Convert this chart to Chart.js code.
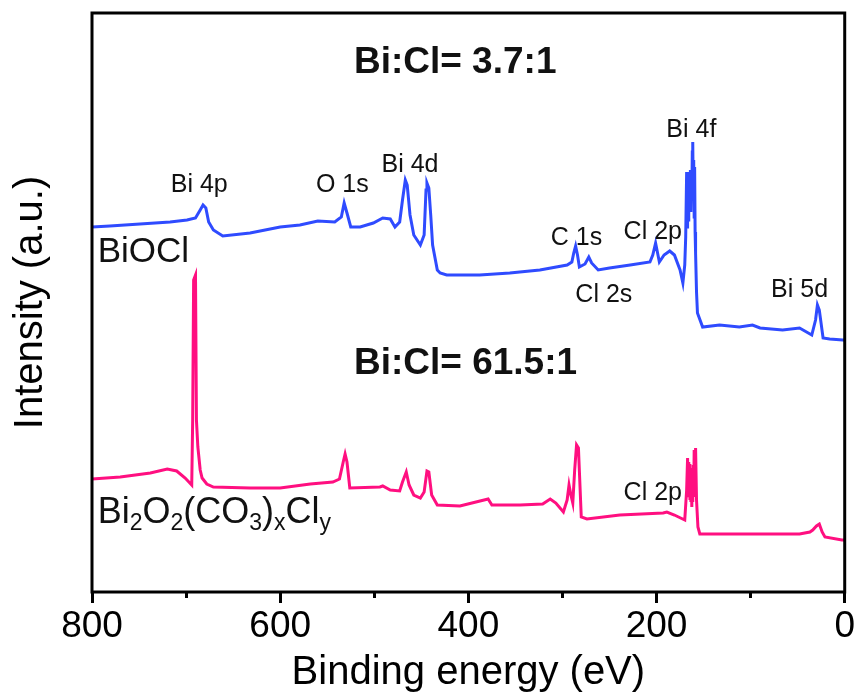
<!DOCTYPE html>
<html>
<head>
<meta charset="utf-8">
<script src="https://cdn.jsdelivr.net/npm/chart.js@4/dist/chart.umd.min.js"></script>
<style>
html,body{margin:0;padding:0;background:#fff;}
#wrap{width:857px;height:695px;}
</style>
</head>
<body>
<div id="wrap"><canvas id="canvas" width="857" height="695"></canvas></div>
<script>
// XPS survey, binding energy (eV) vs intensity (a.u.)
var energyBiOCl=[800,781,749,717,699,690,685,682,679,676,671,661,632,600,579,560,542,535,532,529,525,515,501,491,483,478,473,470,467,465,462,458,451,447,445,444,442,440,438,433,430,423,388,356,324,295,290,288,286,284,282,276,272,269,262,250,228,207,204,201,197,192,186,181,175,172,170,169,168,167.5,167,166.5,166,165.5,165,164.5,164,163.5,163,162.5,162,161.5,161,160.5,160,159.5,159,158.5,157.5,156.5,151,133,112,98,90,66,48,35,31,29,27,23,16,2,0];
var intensityBiOCl=[365,366,368,370,372,374,382,387,384,370,362,356,359,365,367,371,370,375,389,379,365,365,369,374,373,365,370,392,412,407,377,357,347,357,402,409,404,377,347,322,319,317,317,319,322,327,330,339,346,337,325,328,335,329,322,324,327,330,337,349,330,337,341,337,322,309,327,355,420,365,418,372,420,380,418,385,422,380,418,395,440,450,400,432,375,425,360,339,300,279,265,267,265,267,264,262,264,257,272,287,282,254,253,252,252];

var energyBOC=[800,770,738,720,710,701,694,693,692,690,689,687.5,685,683,678,671,632,600,568,544,537,533,531,529,526,494,491,483,473,470,466,463,458,451,447,444,442,439,433,409,379,375,345,321,313,307,299,295,293,291,289,287,285,283,280,274,239,193,189,181,170,168,167,166.5,166,165.5,165,164.5,164,163.5,163,162.5,162,161.5,161,160.5,160,159.5,159,158.5,157.5,156,154,101,48,37,34,30,27,24,21,3,0];
var intensityBOC=[113,115,119,123,121,114,107,172,312,317,172,145,122,114,108,105,104,104,108,110,113,130,138,130,104,105,106,102,101,110,120,107,97,94,100,121,120,97,87,86,93,87,87,88,93,89,80,92,107,97,89,122,147,144,75,73,77,79,80,77,72,102,134,100,130,95,128,92,124,90,110,85,118,90,127,95,142,100,140,144,92,65,58,58,58,60,62,66,68,60,55,52,52];

var seriesNames=['BiOCl','Bi2O2(CO3)xCly'];
var seriesColors=['#2f4bff','#ff0f80'];
var xTicks=[800,600,400,200,0];

// peak labels: text, energy (eV), intensity (a.u.)
var peakText=['Bi 4p','O 1s','Bi 4d','C 1s','Cl 2s','Cl 2p','Bi 4f','Bi 5d','Cl 2p'];
var peakEnergy=[686,534,462,285,256,204,163,48,204];
var peakIntensity=[407,407,427,354,297,360,462,302,99];

var ratioText=['Bi:Cl= 3.7:1','Bi:Cl= 61.5:1'];
var ratioEnergy=[414,403];
var ratioIntensity=[529,228];

function toPoints(xs,ys){
	var pts=[];
	for(var i=0;i<xs.length;i++){
		pts.push({x:xs[i],y:ys[i]});
	}
	return pts;
}

var FONT='"Liberation Sans", Arial, sans-serif';

var labelPlugin={
	id:'labels',
	afterDraw:function(chart){
		var ctx=chart.ctx;
		var xs=chart.scales.x, ys=chart.scales.y;
		var a=chart.chartArea;
		ctx.save();
		// frame
		ctx.strokeStyle='#000';
		ctx.lineWidth=3;
		ctx.strokeRect(a.left,a.top,a.right-a.left,a.bottom-a.top);
		ctx.fillStyle='#111';
		ctx.textAlign='center';
		ctx.textBaseline='middle';
		ctx.font='25px '+FONT;
		for(var i=0;i<peakText.length;i++){
			ctx.fillText(peakText[i],xs.getPixelForValue(peakEnergy[i]),ys.getPixelForValue(peakIntensity[i]));
		}
		ctx.font='bold 37px '+FONT;
		for(var i=0;i<ratioText.length;i++){
			ctx.fillText(ratioText[i],xs.getPixelForValue(ratioEnergy[i]),ys.getPixelForValue(ratioIntensity[i]));
		}
		// sample names
		ctx.textAlign='left';
		ctx.textBaseline='alphabetic';
		ctx.font='35px '+FONT;
		ctx.fillText('BiOCl',xs.getPixelForValue(794),ys.getPixelForValue(342)+12);
		// Bi2O2(CO3)xCly with subscripts
		var parts=[['Bi',0],['2',1],['O',0],['2',1],['(CO',0],['3',1],[')',0],['x',1],['Cl',0],['y',1]];
		var px=xs.getPixelForValue(794), py=ys.getPixelForValue(81)+12;
		for(var j=0;j<parts.length;j++){
			var sub=parts[j][1]==1;
			ctx.font=(sub?'23px ':'36px ')+FONT;
			ctx.fillText(parts[j][0],px,py+(sub?7:0));
			px+=ctx.measureText(parts[j][0]).width;
		}
		ctx.restore();
	}
};

var config={
	type:'line',
	data:{
		datasets:[
			{label:seriesNames[0],data:toPoints(energyBiOCl,intensityBiOCl),borderColor:seriesColors[0],borderWidth:3,pointRadius:0,tension:0,fill:false},
			{label:seriesNames[1],data:toPoints(energyBOC,intensityBOC),borderColor:seriesColors[1],borderWidth:3,pointRadius:0,tension:0,fill:false}
		]
	},
	options:{
		responsive:false,
		animation:false,
		layout:{padding:{left:0,right:12,top:13,bottom:0}},
		plugins:{legend:{display:false},tooltip:{enabled:false}},
		scales:{
			x:{
				type:'linear',
				min:0,max:800,reverse:true,
				border:{display:false},
				grid:{
					display:true,drawOnChartArea:false,drawTicks:true,
					tickLength:11,tickWidth:3,tickColor:'#000',
					tickBorderDash:function(c){
						return (c.tick && c.tick.value%200!==0)?[6,40]:[];
					}
				},
				ticks:{
					stepSize:100,autoSkip:false,maxRotation:0,padding:2,
					color:'#000',font:{family:FONT,size:37},
					callback:function(v){return xTicks.indexOf(v)>=0?v:'';}
				},
				title:{display:true,text:'Binding energy (eV)',color:'#000',
					font:{family:FONT,size:40,lineHeight:1.0},padding:{top:0,bottom:2}},
				afterFit:function(s){s.height=103;}
			},
			y:{
				min:0,max:579,
				border:{display:false},
				grid:{display:false},
				ticks:{display:false},
				title:{display:true,text:'Intensity (a.u.)',color:'#000',
					font:{family:FONT,size:40,lineHeight:1.2},padding:{top:7,bottom:0}},
				afterFit:function(s){s.width=92;}
			}
		}
	},
	plugins:[labelPlugin]
};

var ctx=document.getElementById('canvas').getContext('2d');
window.myLine=new Chart(ctx,config);
</script>
</body>
</html>
